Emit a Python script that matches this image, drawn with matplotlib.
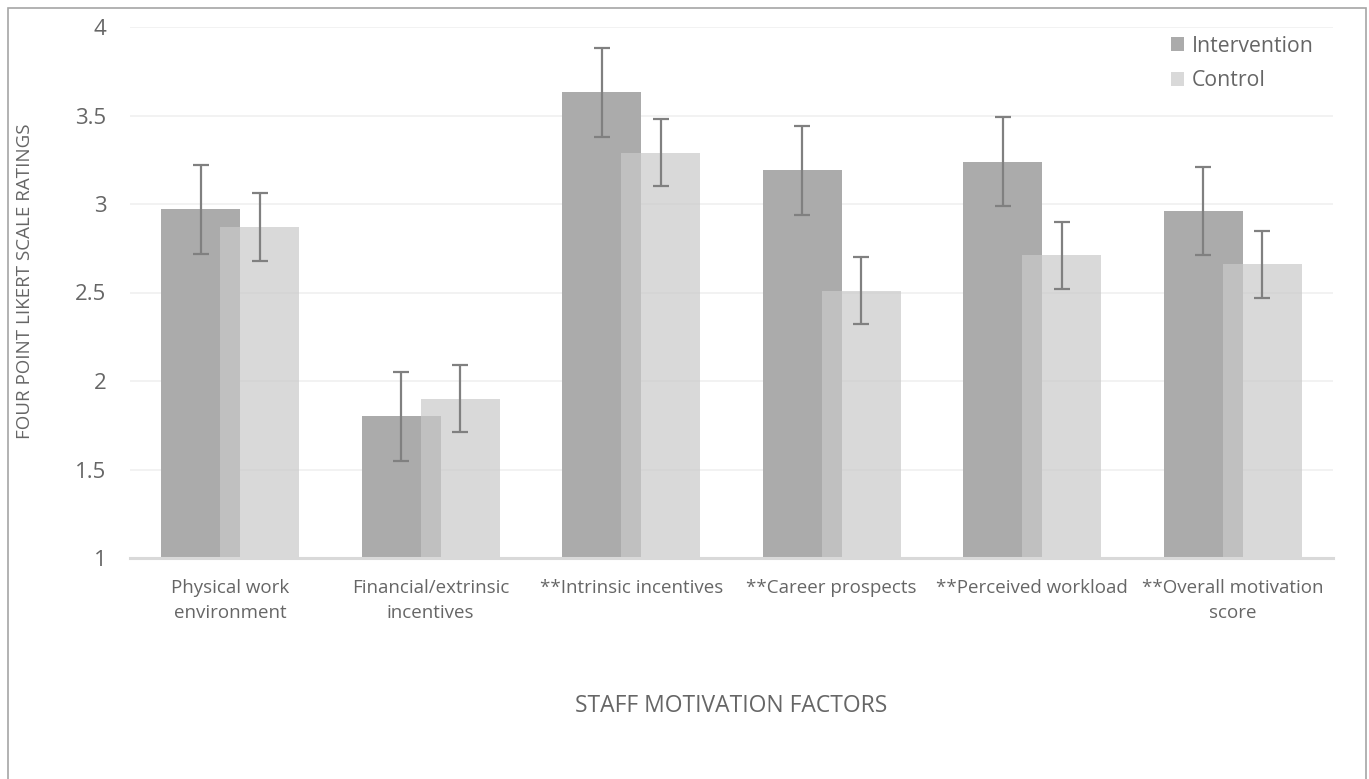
import matplotlib
matplotlib.use("Agg")
import matplotlib.pyplot as plt
import numpy as np
from matplotlib.patches import Rectangle

categories = ["Physical work\nenvironment", "Financial/extrinsic\nincentives",
              "**Intrinsic incentives", "**Career prospects",
              "**Perceived workload", "**Overall motivation\nscore"]
intervention = [2.97, 1.80, 3.63, 3.19, 3.24, 2.96]
control = [2.87, 1.90, 3.29, 2.51, 2.71, 2.66]
intervention_err = [0.25, 0.25, 0.25, 0.25, 0.25, 0.25]
control_err = [0.19, 0.19, 0.19, 0.19, 0.19, 0.19]
yticks = [1, 1.5, 2, 2.5, 3, 3.5, 4]

plt.rcParams['font.family'] = ['Open Sans', 'DejaVu Sans']
txt = '#666666'

fig = plt.figure(figsize=(13.69, 7.79), dpi=100)
ax = fig.add_axes([130/1369, 221/779, 1203/1369, 531/779])

x = np.arange(len(categories))
w = 0.395
off = 0.1475
ax.bar(x - off, [v - 1 for v in intervention], width=w, bottom=1, color='#ababab',
       label='Intervention', zorder=2)
ax.bar(x + off, [v - 1 for v in control], width=w, bottom=1, color='#c9c9c9', alpha=0.7,
       label='Control', zorder=3)
ax.errorbar(x - off, intervention, yerr=intervention_err, fmt='none', ecolor='#808080',
            elinewidth=1.6, capsize=6, capthick=1.6, zorder=4)
ax.errorbar(x + off, control, yerr=control_err, fmt='none', ecolor='#808080',
            elinewidth=1.6, capsize=6, capthick=1.6, zorder=4)

ax.set_xlim(-0.5, len(categories) - 0.5)
ax.set_ylim(1, 4)
ax.set_yticks(yticks)
ax.set_yticklabels([f"{t:g}" for t in yticks], fontsize=16, color=txt)
ax.set_xticks(x)
ax.set_xticklabels(categories, fontsize=13.5, color=txt, linespacing=1.5)
ax.tick_params(axis='both', length=0)
ax.tick_params(axis='y', pad=17)
ax.tick_params(axis='x', pad=15)
ax.grid(axis='y', color='#f0f0f0', linewidth=1.2, zorder=0)
ax.set_axisbelow(True)
for s in ['top', 'right', 'left']:
    ax.spines[s].set_visible(False)
ax.spines['bottom'].set_color('#d9d9d9')
ax.spines['bottom'].set_linewidth(2.2)
ax.spines['bottom'].set_zorder(5)

ax.set_ylabel("FOUR POINT LIKERT SCALE RATINGS", fontsize=13.5, color=txt, va='center')
ax.yaxis.set_label_coords(-(130 - 25) / 1203, 0.522)
fig.text((130 + 1333) / 2 / 1369, 1 - 706 / 779, "STAFF MOTIVATION FACTORS",
         fontsize=16.5, color=txt, ha='center', va='center')

leg = ax.legend(loc='upper right', bbox_to_anchor=(1.0, 1.02), frameon=False,
                fontsize=15.3, handlelength=0.6, handleheight=0.6, handletextpad=0.4,
                labelspacing=0.65)
for t in leg.get_texts():
    t.set_color(txt)

fig.patches.append(Rectangle((8/1369, -0.01), (1366-8)/1369, 1 - 8/779 + 0.01,
                             transform=fig.transFigure, fill=False,
                             edgecolor='#a6a6a6', linewidth=1.2))

fig.savefig("out.png", dpi=100)
